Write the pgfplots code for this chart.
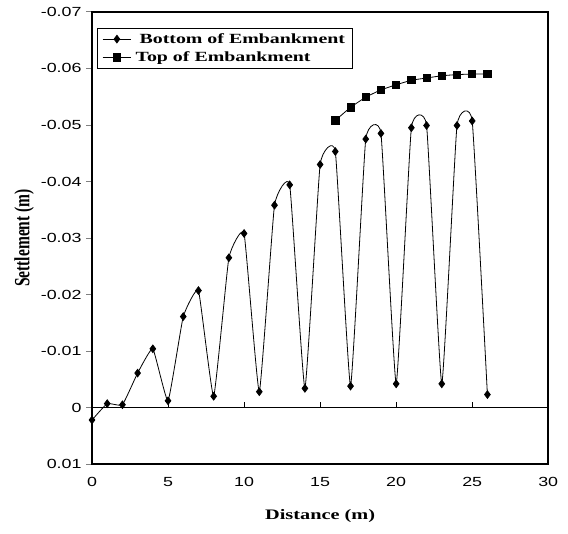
\documentclass[border=0pt]{standalone}
\usepackage{fontspec}
\setmainfont{Liberation Serif}
\setsansfont{Liberation Sans}
\newfontfamily\lblfont[FakeStretch=1.4]{Liberation Serif}
\newfontfamily\legfont[FakeStretch=1.42]{Liberation Serif}
\newcommand\tk[1]{\scalebox{1.55}[1.15]{\sffamily\fontsize{11.5}{13}\selectfont #1}}
\usepackage{pgfplots}
\pgfplotsset{compat=1.18}
\begin{document}
\begin{tikzpicture}
\begin{axis}[
    scale only axis,
    width=456pt, height=452pt,
    xmin=0, xmax=30,
    ymin=-0.07, ymax=0.01,
    y dir=reverse,
    clip=false,
    scaled y ticks=false,
    axis line style={line width=1.6pt},
    xtick={0,5,10,15,20,25,30},
    ytick={-0.07,-0.06,-0.05,-0.04,-0.03,-0.02,-0.01,0,0.01},
    yticklabels={\tk{-0.07},\tk{-0.06},\tk{-0.05},\tk{-0.04},\tk{-0.03},\tk{-0.02},\tk{-0.01},\tk{0},\tk{0.01}},
    xticklabels={\tk{0},\tk{5},\tk{10},\tk{15},\tk{20},\tk{25},\tk{30}},
    x tick label style={yshift=-4pt},
    y tick label style={xshift=-1pt},
    tick align=outside,
    ytick pos=left,
    xtick pos=bottom,
    major x tick style={draw=none},
    major y tick style={line width=0.8pt},
    major tick length=6pt,
    xlabel={\lblfont\bfseries Distance (m)},
    ylabel={\scalebox{1}[1.4]{\bfseries Settlement (m)}},
    xlabel style={font=\fontsize{14.5}{16}\selectfont, yshift=-16pt},
    ylabel style={font=\fontsize{15.5}{17}\selectfont, yshift=0pt},
    legend style={at={(axis description cs:0.011,0.964)}, anchor=north west,
                  draw=black, line width=0.5pt, fill=white,
                  font=\legfont\bfseries\fontsize{14}{16}\selectfont,
                  legend cell align=left, row sep=3pt,
                  inner xsep=5pt, inner ysep=3pt},
    legend image code/.code={%
        \draw[mark repeat=2, mark phase=2, line width=0.8pt, #1]
        plot coordinates {(0cm,0cm) (0.5cm,0cm) (1cm,0cm)};},
]
\path (axis cs:-6.05,-0.0721) rectangle (axis cs:31.3,0.0223);
\draw[line width=0.8pt] (axis cs:0,0) -- (axis cs:30,0);
\pgfplotsinvokeforeach{5,10,15,20,25}{\draw[line width=0.8pt] (axis cs:#1,0) -- (axis cs:#1,-0.0009);}
\addplot[black, line width=0.8pt, smooth, tension=0.22, mark=diamond*, mark size=3.8pt,
    mark options={solid, fill=black}] coordinates {
    (0,0.0022) (1,-0.0007) (2,-0.0005) (3,-0.0061) (4,-0.0104)
    (5,-0.0012) (6,-0.0161) (7,-0.0207) (8,-0.0020) (9,-0.0265)
    (10,-0.0308) (11,-0.0028) (12,-0.0358) (13,-0.0394) (14,-0.0034)
    (15,-0.0430) (16,-0.0453) (17,-0.0038) (18,-0.0475) (19,-0.0485)
    (20,-0.0042) (21,-0.0495) (22,-0.0499) (23,-0.0042) (24,-0.0499)
    (25,-0.0507) (26,-0.0023)
};
\addlegendentry{\hspace{6pt}Bottom of Embankment}
\addplot[black, line width=0.8pt, smooth, tension=0.3, mark=square*, mark size=3.6pt,
    mark options={solid, fill=black}] coordinates {
    (16,-0.0508) (17,-0.0531) (18,-0.0549) (19,-0.0562) (20,-0.0571)
    (21,-0.0579) (22,-0.0583) (23,-0.0587) (24,-0.0589) (25,-0.0590)
    (26,-0.0590)
};
\addlegendentry{\hspace{2pt}Top of Embankment}
\end{axis}
\end{tikzpicture}
\end{document}
